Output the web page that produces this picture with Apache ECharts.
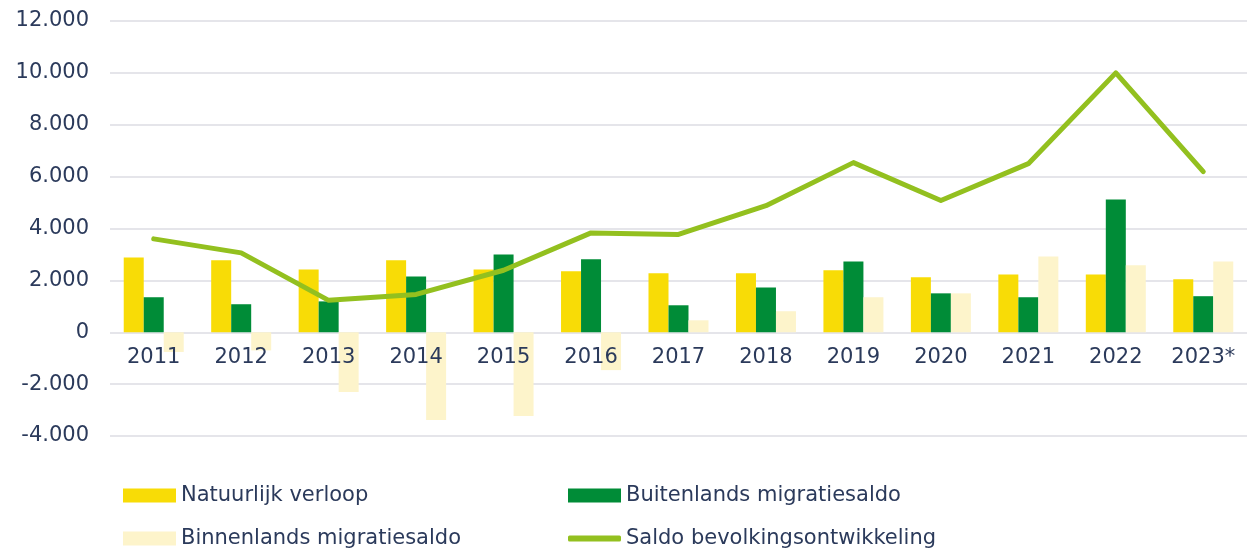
<!DOCTYPE html>
<html>
<head>
<meta charset="utf-8">
<script src="https://cdn.jsdelivr.net/npm/echarts@6/dist/echarts.min.js"></script>
<style>
  html, body { margin: 0; padding: 0; background: #fff; }
  #chart { width: 1247px; height: 549px; }
</style>
</head>
<body>
<div id="chart"></div>
<script>
// jaren
const years = ['2011', '2012', '2013', '2014', '2015', '2016', '2017', '2018', '2019', '2020', '2021', '2022', '2023*']
const natuurlijk = [2880, 2780, 2420, 2780, 2420, 2350, 2270, 2270, 2390, 2120, 2230, 2230, 2040]
const buitenlands = [1350, 1080, 1190, 2150, 3000, 2810, 1040, 1730, 2730, 1500, 1350, 5120, 1390]
const binnenlands = [-760, -700, -2300, -3380, -3230, -1460, 460, 810, 1350, 1500, 2920, 2580, 2730]
const saldo = [3600, 3060, 1230, 1460, 2390, 3830, 3770, 4880, 6540, 5080, 6500, 10000, 6190]

const textColor = '#2b3a5b'
const gridColor = '#dcdce3'
const font = 'DejaVu Sans'

const chart = echarts.init(document.getElementById('chart'))

const fmt = v => {
  const s = Math.abs(v).toString().replace(/\B(?=(\d{3})+(?!\d))/g, '.')
  return (v < 0 ? '-' : '') + s
}

const legendText = { color: textColor, fontSize: 21, fontFamily: font }

// elk legend-item apart, zodat de twee kolommen vast staan
const legendItem = (name, left, top, icon, h) => ({
  left: left,
  top: top,
  itemWidth: 53,
  itemHeight: h || 14,
  itemGap: 0,
  icon: icon || 'rect',
  textStyle: legendText,
  data: [name]
})

chart.setOption({
  animation: false,
  grid: { left: 110, right: 0, top: 21, bottom: 113 },
  legend: [
    legendItem('Natuurlijk verloop', 118, 480),
    legendItem('Binnenlands migratiesaldo', 118, 523),
    legendItem('Buitenlands migratiesaldo', 563, 480),
    legendItem('Saldo bevolkingsontwikkeling', 563, 523, 'roundRect', 6)
  ],
  xAxis: {
    type: 'category',
    data: years,
    offset: -104,
    z: 10,
    axisLine: { show: false },
    axisTick: { show: false },
    axisLabel: {
      color: textColor,
      fontSize: 21,
      fontFamily: font,
      margin: 15
    }
  },
  yAxis: {
    type: 'value',
    min: -4000,
    max: 12000,
    interval: 2000,
    axisLine: { show: false },
    axisTick: { show: false },
    splitLine: { lineStyle: { color: gridColor, width: 1.5 }},
    axisLabel: {
      color: textColor,
      fontSize: 21,
      fontFamily: font,
      margin: 21,
      formatter: fmt
    }
  },
  series: [
    {
      name: 'Natuurlijk verloop',
      type: 'bar',
      data: natuurlijk,
      barWidth: 20,
      barGap: 0,
      itemStyle: { color: '#f8dc06' }
    },
    {
      name: 'Buitenlands migratiesaldo',
      type: 'bar',
      data: buitenlands,
      barWidth: 20,
      barGap: 0,
      itemStyle: { color: '#008c37' }
    },
    {
      name: 'Binnenlands migratiesaldo',
      type: 'bar',
      data: binnenlands,
      barWidth: 20,
      barGap: 0,
      itemStyle: { color: '#fdf4cb' }
    },
    {
      name: 'Saldo bevolkingsontwikkeling',
      type: 'line',
      data: saldo,
      symbol: 'none',
      z: 5,
      lineStyle: { color: '#93c01f', width: 5, cap: 'round', join: 'round' },
      itemStyle: { color: '#93c01f' }
    }
  ]
})
</script>
</body>
</html>
